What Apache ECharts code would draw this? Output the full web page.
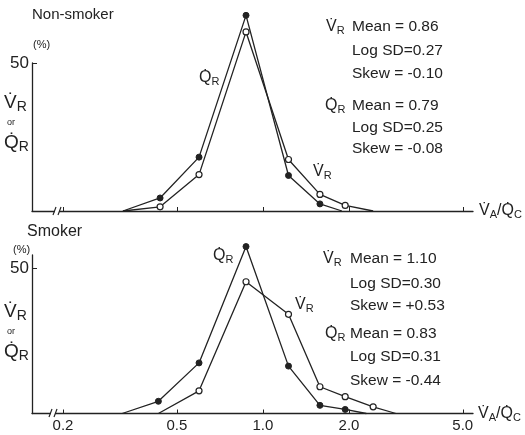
<!DOCTYPE html>
<html><head><meta charset="utf-8">
<script src="https://cdn.jsdelivr.net/npm/echarts@6/dist/echarts.min.js"></script>
<style>html,body{margin:0;padding:0;background:#fff}#c{width:525px;height:435px}</style>
</head><body><div id="c"></div>
<script>
// ---- data (x = VA/QC ratio, y = % of total) ----
// Non-smoker
const nsQx = [0.324, 0.437, 0.598, 0.873, 1.229, 1.583, 1.89];
const nsQy = [0, 4.4, 18.2, 66.1, 12.0, 2.4, 0];
const nsVx = [0.324, 0.437, 0.598, 0.873, 1.229, 1.583, 1.94, 2.43];
const nsVy = [0, 1.4, 12.3, 60.5, 17.4, 5.6, 1.9, 0];
// Smoker
const smQx = [0.322, 0.431, 0.598, 0.873, 1.229, 1.583, 1.94, 2.3];
const smQy = [0, 4.2, 17.4, 57.4, 16.3, 2.8, 1.4, 0];
const smVx = [0.431, 0.598, 0.873, 1.229, 1.583, 1.94, 2.43, 2.92];
const smVy = [0, 7.8, 45.3, 34.1, 9.2, 5.8, 2.3, 0];
const xTicks = [0.2, 0.5, 1.0, 2.0, 5.0];
const yTicks = [50];
const nsStats = {V: ['Mean = 0.86', 'Log SD=0.27', 'Skew = -0.10'], Q: ['Mean = 0.79', 'Log SD=0.25', 'Skew = -0.08']};
const smStats = {V: ['Mean = 1.10', 'Log SD=0.30', 'Skew = +0.53'], Q: ['Mean = 0.83', 'Log SD=0.31', 'Skew = -0.44']};

const INK = '#222';
const F = '"Liberation Sans", Arial, sans-serif';
const chart = echarts.init(document.getElementById('c'));

function pts(xs, ys) {
  return xs.map((x, i) => ys[i] === 0 ? {value: [x, ys[i]], symbol: 'none'} : {value: [x, ys[i]]});
}
function ser(xs, ys, idx, filled) {
  return {
    type: 'line', xAxisIndex: idx, yAxisIndex: idx, clip: false, silent: true,
    data: pts(xs, ys), symbol: 'circle', symbolSize: 6, showAllSymbol: true,
    lineStyle: {color: INK, width: 1.3},
    itemStyle: filled ? {color: INK, borderColor: INK, borderWidth: 1} : {color: '#fff', borderColor: INK, borderWidth: 1.2},
    z: filled ? 3 : 4
  };
}
function xAx(idx, showLabels) {
  return {
    type: 'log', logBase: 10, gridIndex: idx, min: 0.1558, max: 5.43,
    axisLine: {lineStyle: {color: INK, width: 1.3}},
    axisTick: {show: true, inside: true, length: 4, customValues: xTicks, lineStyle: {color: INK}},
    minorTick: {show: false}, splitLine: {show: false}, minorSplitLine: {show: false},
    axisLabel: {show: showLabels, customValues: xTicks, margin: 5, fontSize: 15, fontFamily: F, color: INK,
      formatter: v => Number(v).toFixed(1)}
  };
}
function yAx(idx, max) {
  return {
    type: 'value', gridIndex: idx, min: 0, max: max,
    axisLine: {show: true, lineStyle: {color: INK, width: 1.3}},
    axisTick: {show: true, inside: true, length: 5, customValues: yTicks, lineStyle: {color: INK}},
    splitLine: {show: false},
    axisLabel: {show: true, customValues: yTicks, margin: 3, fontSize: 17, fontFamily: F, color: INK}
  };
}
const rich = {
  L: {fontSize: 16, fontFamily: F, color: INK},
  s: {fontSize: 11, fontFamily: F, color: INK, padding: [8, 0, 0, 0]},
  B: {fontSize: 19, fontFamily: F, color: INK},
  bs: {fontSize: 14, fontFamily: F, color: INK, padding: [9, 0, 0, 0]}
};
function rt(x, y, text, big) {
  return {type: 'text', x: x, y: y, style: {text: text, rich: rich, verticalAlign: 'middle', align: 'left', font: '16px ' + F, fill: INK}};
}
function tx(x, y, text, size) {
  return {type: 'text', x: x, y: y, style: {text: text, fontSize: size, fontFamily: F, fill: INK, verticalAlign: 'middle', align: 'left'}};
}
const VR = '{L|V\u0307}{s|R}', QR = '{L|Q\u0307}{s|R}';
const BVR = '{B|V\u0307}{bs|R}', BQR = '{B|Q\u0307}{bs|R}';
const AX = '{L|V\u0307}{s|A}{L|/Q\u0307}{s|C}';

const graphic = [
  tx(32, 15, 'Non-smoker', 15),
  tx(27, 232, 'Smoker', 16),
  tx(33, 45, '(%)', 11),
  tx(13, 250, '(%)', 11),
  rt(4, 103, BVR), tx(7, 123, 'or', 9), rt(4, 143, BQR),
  rt(4, 312, BVR), tx(7, 332, 'or', 9), rt(4, 352, BQR),
  rt(199, 78, QR), rt(313, 172, VR),
  rt(213, 256, QR), rt(295, 305, VR),
  rt(479, 211, AX), rt(478, 414, AX),
  rt(326, 27, VR), rt(325, 106, QR),
  rt(323, 259, VR), rt(325, 334, QR)
];
const yTop = [27, 51, 74, 106, 128, 149];
const yBot = [259, 284, 306, 334, 357, 381];
nsStats.V.concat(nsStats.Q).forEach((t, i) => graphic.push(tx(352, yTop[i], t, 15.5)));
smStats.V.concat(smStats.Q).forEach((t, i) => graphic.push(tx(350, yBot[i], t, 15.5)));
// axis break marks
[[57, 211], [53, 413]].forEach(([x, y]) => {
  graphic.push({type: 'rect', shape: {x: x - 2, y: y - 2, width: 4, height: 4}, style: {fill: '#fff'}, z: 10});
  graphic.push({type: 'line', shape: {x1: x - 4, y1: y + 4, x2: x - 1, y2: y - 4}, style: {stroke: INK, lineWidth: 1.2}, z: 11});
  graphic.push({type: 'line', shape: {x1: x + 1, y1: y + 4, x2: x + 4, y2: y - 4}, style: {stroke: INK, lineWidth: 1.2}, z: 11});
});

chart.setOption({
  animation: false,
  backgroundColor: '#fff',
  grid: [
    {left: 32, right: 52, top: 63, height: 148},
    {left: 32, right: 52, top: 255, height: 158.5}
  ],
  xAxis: [xAx(0, false), xAx(1, true)],
  yAxis: [yAx(0, 50), yAx(1, 54.5)],
  series: [
    ser(nsQx, nsQy, 0, true), ser(nsVx, nsVy, 0, false),
    ser(smQx, smQy, 1, true), ser(smVx, smVy, 1, false)
  ],
  graphic: graphic
});
</script></body></html>
